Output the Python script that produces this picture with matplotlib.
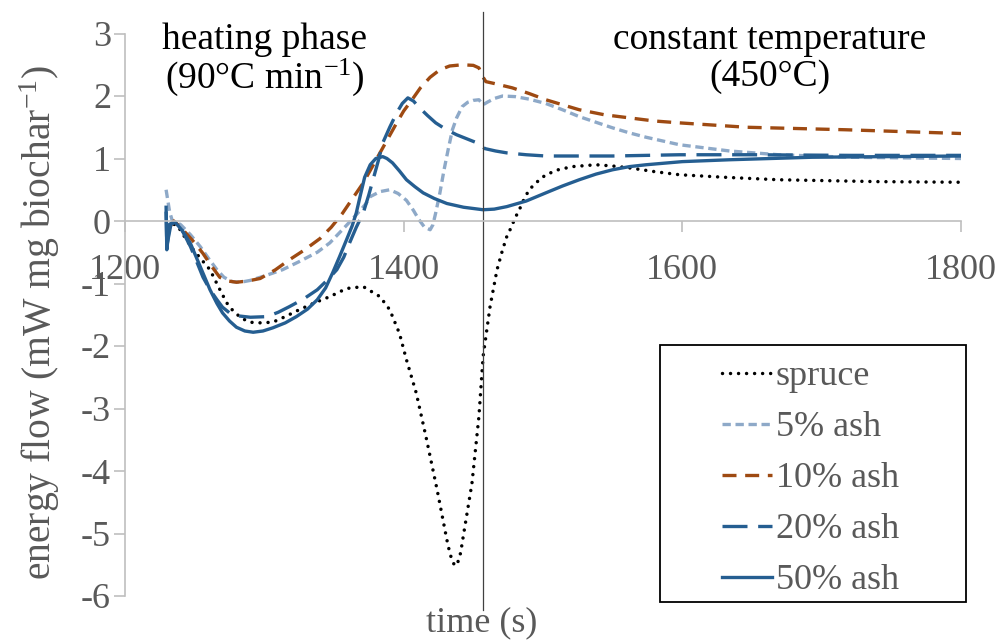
import matplotlib
matplotlib.use("Agg")
from matplotlib import pyplot as plt
from matplotlib.patches import Rectangle

## data ##

# spruce #
spruce_t = [1230, 1236, 1240, 1244, 1249, 1255, 1261, 1267, 1273, 1278, 1284, 1290, 1296, 1306,
            1315, 1325, 1337, 1347, 1359, 1371, 1383, 1390, 1397, 1402, 1409, 1416, 1424, 1431,
            1433, 1435, 1437, 1439, 1441, 1442, 1449, 1454, 1457, 1462, 1467, 1471, 1474, 1477,
            1480, 1483, 1486, 1490, 1496, 1502, 1511, 1521, 1538, 1550, 1562, 1580, 1598, 1630,
            1669, 1740, 1800]
spruce_e = [-0.1, -0.05, -0.15, -0.3, -0.46, -0.62, -0.78, -1.05, -1.31, -1.45, -1.56, -1.62, -1.63, -1.62,
            -1.53, -1.42, -1.3, -1.21, -1.08, -1.05, -1.21, -1.42, -1.8, -2.22, -2.75, -3.45, -4.3, -5.1,
            -5.3, -5.45, -5.52, -5.45, -5.3, -5.15, -4.2, -3.13, -2.17, -1.37, -0.78, -0.46, -0.25, -0.11,
            0.05, 0.18, 0.33, 0.5, 0.63, 0.74, 0.82, 0.87, 0.9, 0.88, 0.85, 0.79, 0.74, 0.7,
            0.66, 0.63, 0.62]

# 5% ash #
ash5_t = [1229.5, 1232, 1234, 1237, 1240, 1247, 1254, 1260, 1266, 1271, 1277, 1283, 1290, 1300,
          1313, 1325, 1338, 1347, 1356, 1364, 1370, 1373, 1376, 1383, 1390, 1396, 1402, 1407,
          1411, 1415, 1419, 1421, 1423, 1426, 1429, 1432, 1435, 1438, 1442, 1446, 1450, 1454,
          1457, 1460, 1465, 1471, 1480, 1490, 1502, 1514, 1526, 1538, 1550, 1562, 1574, 1598,
          1634, 1669, 1720, 1800]
ash5_e = [0.5, 0.15, 0.0, -0.02, -0.06, -0.22, -0.41, -0.6, -0.78, -0.9, -0.97, -0.98, -0.95, -0.88,
          -0.78, -0.65, -0.5, -0.35, -0.14, 0.05, 0.2, 0.28, 0.39, 0.47, 0.5, 0.44, 0.33, 0.17,
          0.02, -0.1, -0.14, -0.06, 0.13, 0.45, 0.82, 1.15, 1.46, 1.65, 1.83, 1.9, 1.93, 1.94,
          1.86, 1.9, 1.96, 2.0, 1.99, 1.95, 1.88, 1.78, 1.67, 1.58, 1.49, 1.41, 1.34, 1.22,
          1.12, 1.06, 1.02, 1.0]

# 10% ash #
ash10_t = [1232, 1235, 1239, 1244, 1250, 1256, 1262, 1268, 1274, 1280, 1288, 1297, 1308, 1318,
           1329, 1340, 1348, 1356, 1363, 1371, 1377, 1383, 1389, 1395, 1400, 1406, 1412, 1419,
           1426, 1433, 1442, 1450, 1454, 1457, 1459, 1465, 1478, 1490, 1502, 1514, 1526, 1544,
           1562, 1580, 1598, 1646, 1717, 1800]
ash10_e = [-0.1, 0.0, -0.08, -0.2, -0.35, -0.52, -0.72, -0.9, -0.96, -0.98, -0.96, -0.92, -0.78, -0.62,
           -0.46, -0.28, -0.1, 0.12, 0.35, 0.61, 0.85, 1.09, 1.33, 1.57, 1.76, 1.94, 2.13, 2.3,
           2.42, 2.48, 2.5, 2.49, 2.45, 2.3, 2.23, 2.2, 2.13, 2.04, 1.94, 1.86, 1.78, 1.7,
           1.65, 1.6, 1.57, 1.5, 1.46, 1.4]

# 20% ash #
ash20_t = [1229.5, 1230, 1233, 1236, 1241, 1247, 1252, 1256, 1261, 1266, 1270, 1275, 1282, 1290,
           1302, 1310, 1318, 1328, 1338, 1345, 1352, 1357, 1361, 1366, 1371, 1375, 1378, 1382,
           1385, 1390, 1395, 1399, 1403, 1407, 1411, 1417, 1423, 1430, 1438, 1447, 1456, 1458,
           1466, 1474, 1488, 1502, 1550, 1598, 1650, 1720, 1800]
ash20_e = [0.15, -0.4, -0.05, -0.02, -0.15, -0.41, -0.68, -0.9, -1.1, -1.26, -1.38, -1.47, -1.52, -1.54,
           -1.53, -1.46, -1.37, -1.25, -1.1, -0.95, -0.78, -0.58, -0.36, -0.1, 0.13, 0.42, 0.66, 0.98,
           1.25, 1.5, 1.73, 1.88, 1.97, 1.92, 1.82, 1.69, 1.57, 1.47, 1.38, 1.3, 1.22, 1.16,
           1.12, 1.09, 1.06, 1.04, 1.04, 1.06, 1.06, 1.05, 1.05]

# 50% ash #
ash50_t = [1229.5, 1230, 1232, 1236, 1241, 1247, 1254, 1261, 1266, 1270, 1275, 1280, 1286, 1292,
           1299, 1306, 1315, 1323, 1331, 1338, 1344, 1349, 1354, 1359, 1363, 1366, 1369, 1372,
           1376, 1380, 1385, 1388, 1392, 1397, 1402, 1408, 1414, 1422, 1431, 1443, 1457, 1465,
           1474, 1488, 1502, 1514, 1526, 1538, 1550, 1562, 1574, 1600, 1634, 1693, 1800]
ash50_e = [0.22, -0.46, -0.05, -0.02, -0.15, -0.36, -0.73, -1.1, -1.32, -1.47, -1.6, -1.7, -1.76, -1.78,
           -1.76, -1.71, -1.63, -1.53, -1.41, -1.26, -1.07, -0.83, -0.57, -0.3, -0.08, 0.13, 0.42, 0.7,
           0.9, 1.0, 1.03, 1.0, 0.93, 0.8, 0.66, 0.55, 0.45, 0.36, 0.28, 0.22, 0.18, 0.19,
           0.23, 0.32, 0.45, 0.56, 0.66, 0.75, 0.82, 0.87, 0.9, 0.95, 0.98, 1.02, 1.04]

phase_change = 1457

x_ticks = [1200, 1400, 1600, 1800]
y_ticks = [3, 2, 1, 0, -1, -2, -3, -4, -5, -6]

## style ##
FONT = 'Liberation Serif'
plt.rcParams['font.family'] = 'serif'
plt.rcParams['font.serif'] = [FONT, 'DejaVu Serif']
plt.rcParams['mathtext.fontset'] = 'custom'
plt.rcParams['mathtext.rm'] = FONT
plt.rcParams['mathtext.it'] = FONT + ':italic'
plt.rcParams['mathtext.default'] = 'rm'

grey_txt = "#595959"
grey_ax = "#BFBFBF"
dark_blue = "#255E91"
light_blue = "#8EA9C8"
brown = "#9E4A12"
lw = 2.4

fig = plt.figure(figsize=(10.02, 6.44), dpi=100)
ax = fig.add_axes([125/1002, 1-596/644, (961-125)/1002, (596-33.5)/644])

ax.plot(spruce_t, spruce_e, color="black", lw=2.5, linestyle=(0, (0.01, 2.3)),
        dash_capstyle='round', label="spruce")
ax.plot(ash5_t, ash5_e, color=light_blue, lw=lw, linestyle=(0, (2.5, 1.4)), label="5% ash")
ax.plot(ash10_t, ash10_e, color=brown, lw=lw, linestyle=(0, (4.2, 2.6)), label="10% ash")
ax.plot(ash20_t, ash20_e, color=dark_blue, lw=lw, linestyle=(0, (7.5, 3.2)), label="20% ash")
ax.plot(ash50_t, ash50_e, color=dark_blue, lw=lw, linestyle="-", label="50% ash")

# phase separator #
ax.plot([phase_change, phase_change], [3.34, -6.22], color="#404040", lw=0.9, clip_on=False)

ax.set_xlim(1200, 1800)
ax.set_ylim(-6, 3)
ax.set_xticks(x_ticks)
ax.set_xticklabels([str(v) for v in x_ticks], fontfamily=FONT)
ax.set_yticks(y_ticks)
ax.set_yticklabels([str(v) for v in y_ticks], fontfamily=FONT)

ax.spines['top'].set_visible(False)
ax.spines['right'].set_visible(False)
ax.spines['bottom'].set_position(('data', 0))
ax.spines['bottom'].set_color(grey_ax)
ax.spines['left'].set_color(grey_ax)
ax.spines['bottom'].set_linewidth(1.2)
ax.spines['left'].set_linewidth(1.2)
ax.tick_params(axis='both', direction='out', length=8, width=1.2, color=grey_ax,
               labelcolor=grey_txt, labelsize=26)
ax.tick_params(axis='x', pad=16)
ax.tick_params(axis='y', pad=2)

# labels #
fig.text(40/1002, 1-322/644, "energy flow (mW mg biochar$^{-1}$)", rotation=90,
         ha='center', va='center', fontsize=28.5, color=grey_txt, family=FONT)
fig.text(482/1002, 1-623/644, "time (s)", ha='center', va='center', fontsize=26,
         color=grey_txt, family=FONT)

fig.text(265/1002, 1-40/644, "heating phase", ha='center', va='center', fontsize=27,
         color="black", family=FONT)
fig.text(265/1002, 1-77/644, "(90°C min$^{-1}$)", ha='center', va='center', fontsize=27,
         color="black", family=FONT)
fig.text(770/1002, 1-40/644, "constant temperature", ha='center', va='center', fontsize=27,
         color="black", family=FONT)
fig.text(770/1002, 1-77/644, "(450°C)", ha='center', va='center', fontsize=27,
         color="black", family=FONT)

# legend #
fig.patches.append(Rectangle((660/1002, 1-602/644), (966-660)/1002, (602-345)/644,
                             transform=fig.transFigure, fill=False, edgecolor="black", lw=1.3))
leg = ax.legend(loc='upper left', bbox_to_anchor=(722/1002, 1-360/644),
                bbox_transform=fig.transFigure, frameon=False,
                prop={'family': FONT, 'size': 26},
                handlelength=1.39, handletextpad=0.1, labelspacing=0.49,
                borderpad=0, borderaxespad=0)
for t in leg.get_texts():
    t.set_color(grey_txt)

plt.savefig("out.png", dpi=100)
plt.close()
